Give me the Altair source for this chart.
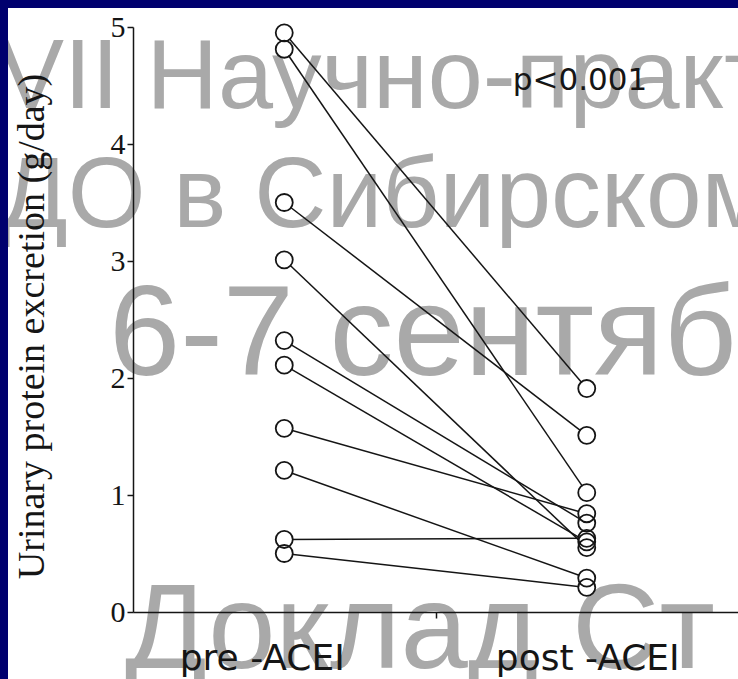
import altair as alt
import pandas as pd

# ---- data ----
subjects = [1, 2, 3, 4, 5, 6, 7, 8, 9, 10]
pre_values = [4.95, 4.81, 3.50, 3.01, 2.32, 2.11, 1.57, 1.21, 0.62, 0.50]
post_values = [1.91, 1.02, 1.51, 0.55, 0.76, 0.60, 0.84, 0.29, 0.63, 0.21]
phases = [1, 2]
phase_labels = ["pre -ACEI", "post -ACEI"]
y_ticks = [0, 1, 2, 3, 4, 5]
x_ticks = [1.5]
p_text = ["p<0.001"]
y_title = "Urinary protein excretion (g/day)"
watermark_lines = ["VII Научно-практической", "ДО в Сибирском", "6-7 сентября", "Доклад Ст"]

rows = []
for s, a, b in zip(subjects, pre_values, post_values):
    rows.append({"subject": s, "phase": phases[0], "value": a})
    rows.append({"subject": s, "phase": phases[1], "value": b})
df = pd.DataFrame(rows)
labels_df = pd.DataFrame({"phase": phases, "label": phase_labels})
one = pd.DataFrame({"t": [0]})

INK = "#151515"
NAVY = "#00006e"
WM = "#a9a9a9"

x_enc = alt.X(
    "phase:Q",
    scale=alt.Scale(domain=[0.5, 2.5], nice=False, zero=False),
    axis=alt.Axis(values=x_ticks, labels=False, title=None, tickSize=6,
                  tickColor=INK, tickWidth=1.5, domainColor=INK, domainWidth=1.5,
                  grid=False, zindex=1),
)
y_enc = alt.Y(
    "value:Q",
    scale=alt.Scale(domain=[0, 5], nice=False, zero=True),
    axis=alt.Axis(values=y_ticks, format="d", title=y_title, tickSize=6,
                  tickColor=INK, tickWidth=1.5, domainColor=INK, domainWidth=1.5,
                  grid=False,
                  labelFont="Liberation Serif", labelFontSize=30, labelColor=INK,
                  labelPadding=2, labelBaseline="middle",
                  titleFont="Liberation Serif", titleFontSize=38,
                  titleFontWeight="normal", titleColor=INK,
                  titleX=-90, titleY=299, titleAngle=270,
                  titleBaseline="alphabetic", titleAlign="center", zindex=1),
)

# watermark texts (positions relative to plot origin at 133,27)
wm_specs = [
    (watermark_lines[0], -135, 81, 99),
    (watermark_lines[1], -133, 200, 100),
    (watermark_lines[2], -24, 348, 128),
    (watermark_lines[3], -8, 641, 121),
]
wm_layers = []
for txt, px, py, fs in wm_specs:
    wm_layers.append(
        alt.Chart(pd.DataFrame({"t": [txt]})).mark_text(
            font="Liberation Sans", fontSize=fs, color=WM, align="left",
            baseline="alphabetic"
        ).encode(text="t:N", x=alt.value(px), y=alt.value(py))
    )

lines = alt.Chart(df).mark_line(color=INK, strokeWidth=1.5).encode(
    x=x_enc, y=y_enc, detail="subject:N", order="phase:Q"
)
fill = alt.Chart(df).mark_circle(color="white", opacity=1, size=250).encode(
    x="phase:Q", y="value:Q"
)
rings = alt.Chart(df).mark_point(
    shape="circle", filled=False, color=INK, size=290, strokeWidth=1.8, opacity=1
).encode(x="phase:Q", y="value:Q")

pre_label = alt.Chart(labels_df).transform_filter("datum.phase == 1").mark_text(
    font="DejaVu Sans", fontSize=36, color=INK, align="center",
    baseline="alphabetic", dx=-22
).encode(x="phase:Q", y=alt.value(643), text="label:N")
post_label = alt.Chart(labels_df).transform_filter("datum.phase == 2").mark_text(
    font="DejaVu Sans", fontSize=36, color=INK, align="center",
    baseline="alphabetic", dx=1
).encode(x="phase:Q", y=alt.value(643), text="label:N")

p_label = alt.Chart(pd.DataFrame({"t": p_text})).mark_text(
    font="DejaVu Sans", fontSize=31, color=INK, align="center", baseline="alphabetic"
).encode(text="t:N", x=alt.value(447), y=alt.value(63))

navy_left = alt.Chart(one).mark_rect(color=NAVY).encode(
    x=alt.value(-133), x2=alt.value(-125), y=alt.value(-27), y2=alt.value(652)
)
navy_top = alt.Chart(one).mark_rect(color=NAVY).encode(
    x=alt.value(-133), x2=alt.value(605), y=alt.value(-27), y2=alt.value(-19)
)

chart = alt.layer(
    *wm_layers, lines, fill, rings, pre_label, post_label, p_label, navy_left, navy_top
).properties(
    width=605, height=585,
    autosize=alt.AutoSizeParams(type="none"),
    padding={"left": 133, "top": 27, "right": 0, "bottom": 67},
    background="white",
).configure_view(stroke=None)

chart.save("out.html", embed_options={"renderer": "svg", "actions": False})
